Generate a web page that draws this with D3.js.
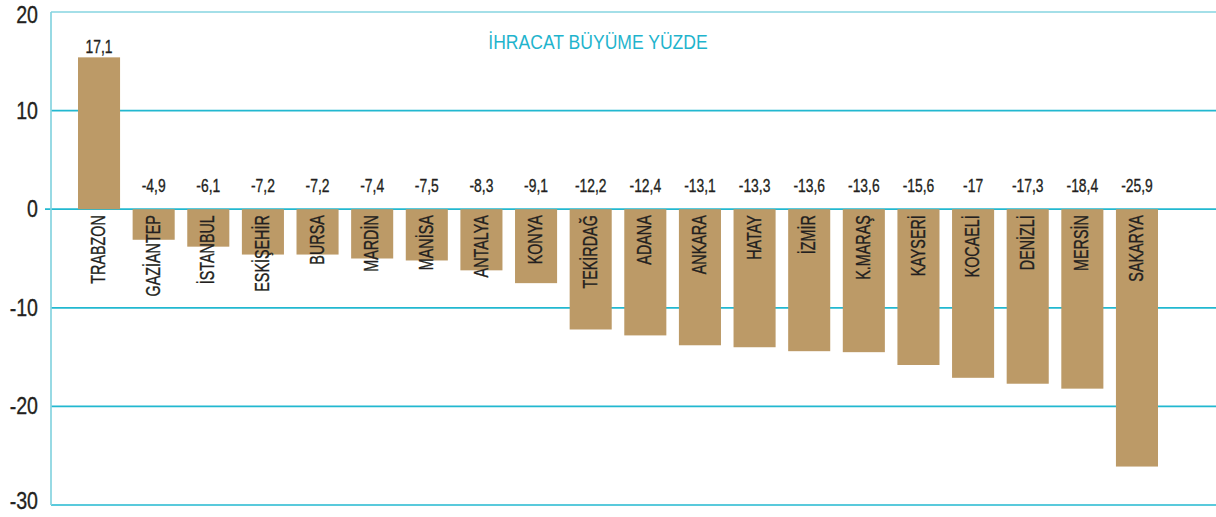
<!DOCTYPE html>
<html lang="tr">
<head>
<meta charset="utf-8">
<title>İhracat Büyüme Yüzde</title>
<script src="https://cdn.jsdelivr.net/npm/d3@7"></script>
<style>
    html, body { margin: 0; padding: 0; background: #fff; }
    #chart { width: 1216px; height: 517px; }
    text { font-family: "Liberation Sans", Arial, sans-serif; fill: #231f20; }
    .dark { stroke: #231f20; stroke-width: 0.35; }
</style>
</head>
<body>
<div id="chart"></div>
<script>
// Export growth by province (percent)

const provinces = [
    'TRABZON', 'GAZİANTEP', 'İSTANBUL', 'ESKİŞEHİR', 'BURSA', 'MARDİN', 'MANİSA',
    'ANTALYA', 'KONYA', 'TEKİRDAĞ', 'ADANA', 'ANKARA', 'HATAY', 'İZMİR',
    'K.MARAŞ', 'KAYSERİ', 'KOCAELİ', 'DENİZLİ', 'MERSİN', 'SAKARYA'
];

// printed value above each bar
const printedValues = [
    17.1, -4.9, -6.1, -7.2, -7.2, -7.4, -7.5, -8.3, -9.1, -12.2,
    -12.4, -13.1, -13.3, -13.6, -13.6, -15.6, -17, -17.3, -18.4, -25.9
];

// bar lengths as drawn in the picture (they don't always match the printed value)
const barValues = [
    15.4, -3.1, -3.8, -4.6, -4.6, -5.0, -5.2, -6.2, -7.5, -12.2,
    -12.8, -13.8, -14.0, -14.4, -14.5, -15.8, -17.1, -17.7, -18.2, -26.1
];

const yTicks = [20, 10, 0, -10, -20, -30];
const chartTitle = 'İHRACAT BÜYÜME YÜZDE';

class GrowthChart {
    constructor(containerId) {
        this.container = document.getElementById(containerId);
        this.width = 1216;
        this.height = 517;
        this.axisX = 51;
        this.barColor = '#bc9a67';
        this.gridColor = '#22b8d0';
        this.lightGrid = '#86d4e0';

        this.svg = d3.select(this.container)
            .append('svg')
            .attr('width', this.width)
            .attr('height', this.height)
            .attr('viewBox', [0, 0, this.width, this.height]);

        this.x = d3.scaleBand()
            .domain(provinces)
            .range([78, 1158])
            .paddingInner(0.23)
            .paddingOuter(0);

        this.y = d3.scaleLinear()
            .domain([-30, 20])
            .range([505, 12]);
    }

    fmt(v) {
        return String(v).replace('.', ',');
    }

    render() {
        const x = this.x, y = this.y;
        const data = provinces.map((name, i) => ({
            name: name,
            bar: barValues[i],
            label: printedValues[i]
        }));

        // Grid lines
        const grid = this.svg.append('g');
        grid.selectAll('line')
            .data(yTicks)
            .enter().append('line')
            .attr('x1', d => d === 0 ? this.axisX - 6 : this.axisX)
            .attr('x2', this.width)
            .attr('y1', d => y(d))
            .attr('y2', d => y(d))
            .attr('stroke', d => d === 20 ? this.lightGrid : this.gridColor)
            .attr('stroke-width', 1.7);

        // Left axis line
        grid.append('line')
            .attr('x1', this.axisX)
            .attr('x2', this.axisX)
            .attr('y1', y(20))
            .attr('y2', y(-30))
            .attr('stroke', this.lightGrid)
            .attr('stroke-width', 1.7);

        // Tick labels (nudged inward at the top and bottom so they stay on the page)
        this.svg.append('g')
            .selectAll('text')
            .data(yTicks)
            .enter().append('text')
            .attr('class', 'dark')
            .attr('transform', d => {
                let ty = y(d) + 8;
                if (d === 20) ty += 3;
                if (d === -30) ty -= 4;
                return `translate(38,${ty}) scale(0.8,1)`;
            })
            .attr('text-anchor', 'end')
            .attr('font-size', 24.5)
            .text(d => d);

        // Bars
        this.svg.append('g')
            .selectAll('rect')
            .data(data)
            .enter().append('rect')
            .attr('x', d => x(d.name))
            .attr('width', x.bandwidth())
            .attr('y', d => y(Math.max(0, d.bar)))
            .attr('height', d => Math.abs(y(d.bar) - y(0)))
            .attr('fill', this.barColor);

        // Value labels
        this.svg.append('g')
            .selectAll('text')
            .data(data)
            .enter().append('text')
            .attr('class', 'dark')
            .attr('transform', d => {
                const cx = x(d.name) + x.bandwidth() / 2;
                const ty = d.bar > 0 ? y(d.bar) - 4 : y(0) - 17;
                return `translate(${cx},${ty}) scale(0.75,1)`;
            })
            .attr('text-anchor', 'middle')
            .attr('font-size', 18.5)
            .text(d => this.fmt(d.label));

        // Province names, rotated
        this.svg.append('g')
            .selectAll('text')
            .data(data)
            .enter().append('text')
            .attr('class', 'dark')
            .attr('transform', d => {
                const cx = x(d.name) + x.bandwidth() / 2;
                return `translate(${cx},${y(0) + 6}) rotate(-90) scale(0.7,1)`;
            })
            .attr('dy', '0.3em')
            .attr('text-anchor', 'end')
            .attr('font-size', 20.5)
            .text(d => d.name);

        // Title
        this.svg.append('text')
            .attr('transform', 'translate(598,49) scale(0.9,1)')
            .attr('text-anchor', 'middle')
            .attr('font-size', 19.5)
            .style('fill', '#1fb4cd')
            .text(chartTitle);
    }
}

document.addEventListener('DOMContentLoaded', function() {
    window.chart = new GrowthChart('chart');
    window.chart.render();
});
</script>
</body>
</html>
